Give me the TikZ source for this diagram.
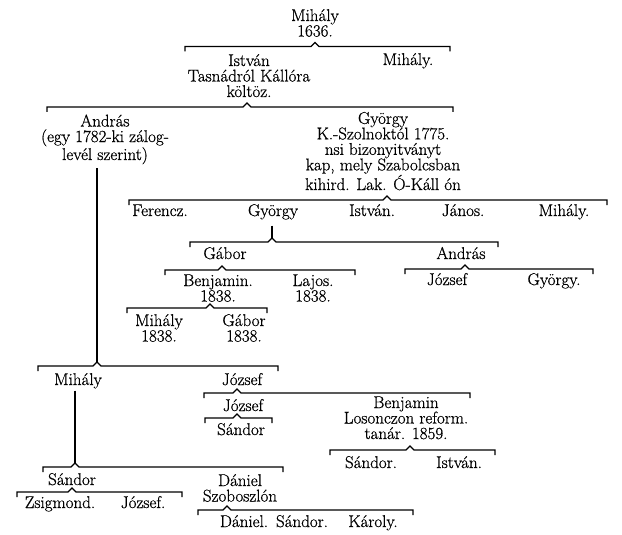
\documentclass[tikz,border=0pt]{standalone}
\usepackage{fontspec}
\setmainfont{Latin Modern Roman}[FakeBold=0.7]
\usepackage{tikz}

\tikzset{
  nev/.style={anchor=base, align=center, inner sep=0pt,
    font=\fontsize{17}{15.5}\selectfont},
  ag/.style={line width=1.1pt, line join=miter},
}

% bracket under a parent: #1 caret coordinate, #2 left end x, #3 right end x
\newcommand{\agas}[3]{%
  \draw[ag] (#2,0 |- #1) ++(0,5) -- ++(0,-5) -- ([xshift=-4pt]#1)
    -- ++(4,-4) -- ++(4,4) -- (#3,0 |- #1) -- ++(0,5);
}

\begin{document}
\begin{tikzpicture}[x=1pt, y=-1pt]

\fill[white] (0,0) rectangle (622,535);
\useasboundingbox (0,0) rectangle (622,535);

% --- Mihály 1636. ---
\node[nev] (mihaly0) at (315,36.5) {Mihály\\1636.};
\coordinate (mihaly0-ag) at (315,46.5);
\agas{mihaly0-ag}{185}{450}
\node[nev] (istvan1) at (249,97) {István\\Tasnádról Kállóra\\költöz.};
\node[nev] (mihaly1) at (408,65) {Mihály.};

% --- István's sons ---
\coordinate (istvan1-ag) at (247,107);
\agas{istvan1-ag}{47}{453}
\node[nev] (andras2) at (105,160) {András\\(egy 1782-ki zálog-\\levél szerint)};
\node[nev] (gyorgy2) at (383,190)
  {György\\K.-Szolnoktól 1775.\\nsi bizonyitványt\\kap, mely Szabolcsban\\kihird. Lak. Ó-Káll ón};

% --- György's sons ---
\coordinate (gyorgy2-ag) at (387,200);
\agas{gyorgy2-ag}{129}{607}
\node[nev] (ferencz3) at (160,216) {Ferencz.};
\node[nev] (gyorgy3) at (273,216) {György};
\node[nev] (istvan3) at (372,216) {István.};
\node[nev] (janos3) at (463,216) {János.};
\node[nev] (mihaly3) at (564,216) {Mihály.};

% --- György (younger) ---
\coordinate (gyorgy3-ag) at (272,242);
\draw[ag] ([yshift=-6pt]gyorgy3.south -| gyorgy3-ag) -- ([yshift=4pt]gyorgy3-ag);
\agas{gyorgy3-ag}{190}{498}
\node[nev] (gabor4) at (225,259) {Gábor};
\node[nev] (andras4) at (461,259) {András};

\coordinate (gabor4-ag) at (222,270);
\agas{gabor4-ag}{165}{355}
\node[nev] (benjamin5) at (218,301.5) {Benjamin.\\1838.};
\node[nev] (lajos5) at (313,301.5) {Lajos.\\1838.};

\coordinate (andras4-ag) at (465,269);
\agas{andras4-ag}{405}{593}
\node[nev] (jozsef5) at (447,285) {József};
\node[nev] (gyorgy5) at (554,285) {György.};

\coordinate (benjamin5-ag) at (210,308);
\agas{benjamin5-ag}{127}{267}
\node[nev] (mihaly6) at (159,341.5) {Mihály\\1838.};
\node[nev] (gabor6) at (244,341.5) {Gábor\\1838.};

% --- András's line ---
\coordinate (andras2-ag) at (97,366);
\draw[ag] ([yshift=-4pt]andras2.south -| andras2-ag) -- ([yshift=4pt]andras2-ag);
\agas{andras2-ag}{38}{278}
\node[nev] (mihaly7) at (78,385) {Mihály};
\node[nev] (jozsef7) at (242,385) {József};

\coordinate (jozsef7-ag) at (237,393);
\agas{jozsef7-ag}{204}{470}
\node[nev] (jozsef8) at (243,411) {József};
\node[nev] (benjamin8) at (406,439) {Benjamin\\Losonczon reform.\\tanár. 1859.};

\coordinate (jozsef8-ag) at (237,418);
\agas{jozsef8-ag}{205}{272}
\node[nev] (sandor9) at (241,435) {Sándor};

\coordinate (benjamin8-ag) at (410,450);
\agas{benjamin8-ag}{330}{495}
\node[nev] (sandor10) at (371,468) {Sándor.};
\node[nev] (istvan10) at (459,468) {István.};

% --- Mihály's line ---
\coordinate (mihaly7-ag) at (75,467);
\draw[ag] ([yshift=-2pt]mihaly7.south -| mihaly7-ag) -- ([yshift=4pt]mihaly7-ag);
\agas{mihaly7-ag}{43}{283}
\node[nev] (sandor11) at (72,485) {Sándor};
\node[nev] (daniel11) at (240,501.5) {Dániel\\Szoboszlón};

\coordinate (sandor11-ag) at (72,492);
\agas{sandor11-ag}{17}{182}
\node[nev] (zsigmond12) at (60,508) {Zsigmond.};
\node[nev] (jozsef12) at (143,508) {József.};

\coordinate (daniel11-ag) at (227,510);
\agas{daniel11-ag}{198}{413}
\node[nev] (daniel13) at (244,527) {Dániel.};
\node[nev] (sandor13) at (302,527) {Sándor.};
\node[nev] (karoly13) at (373,527) {Károly.};

\end{tikzpicture}
\end{document}
